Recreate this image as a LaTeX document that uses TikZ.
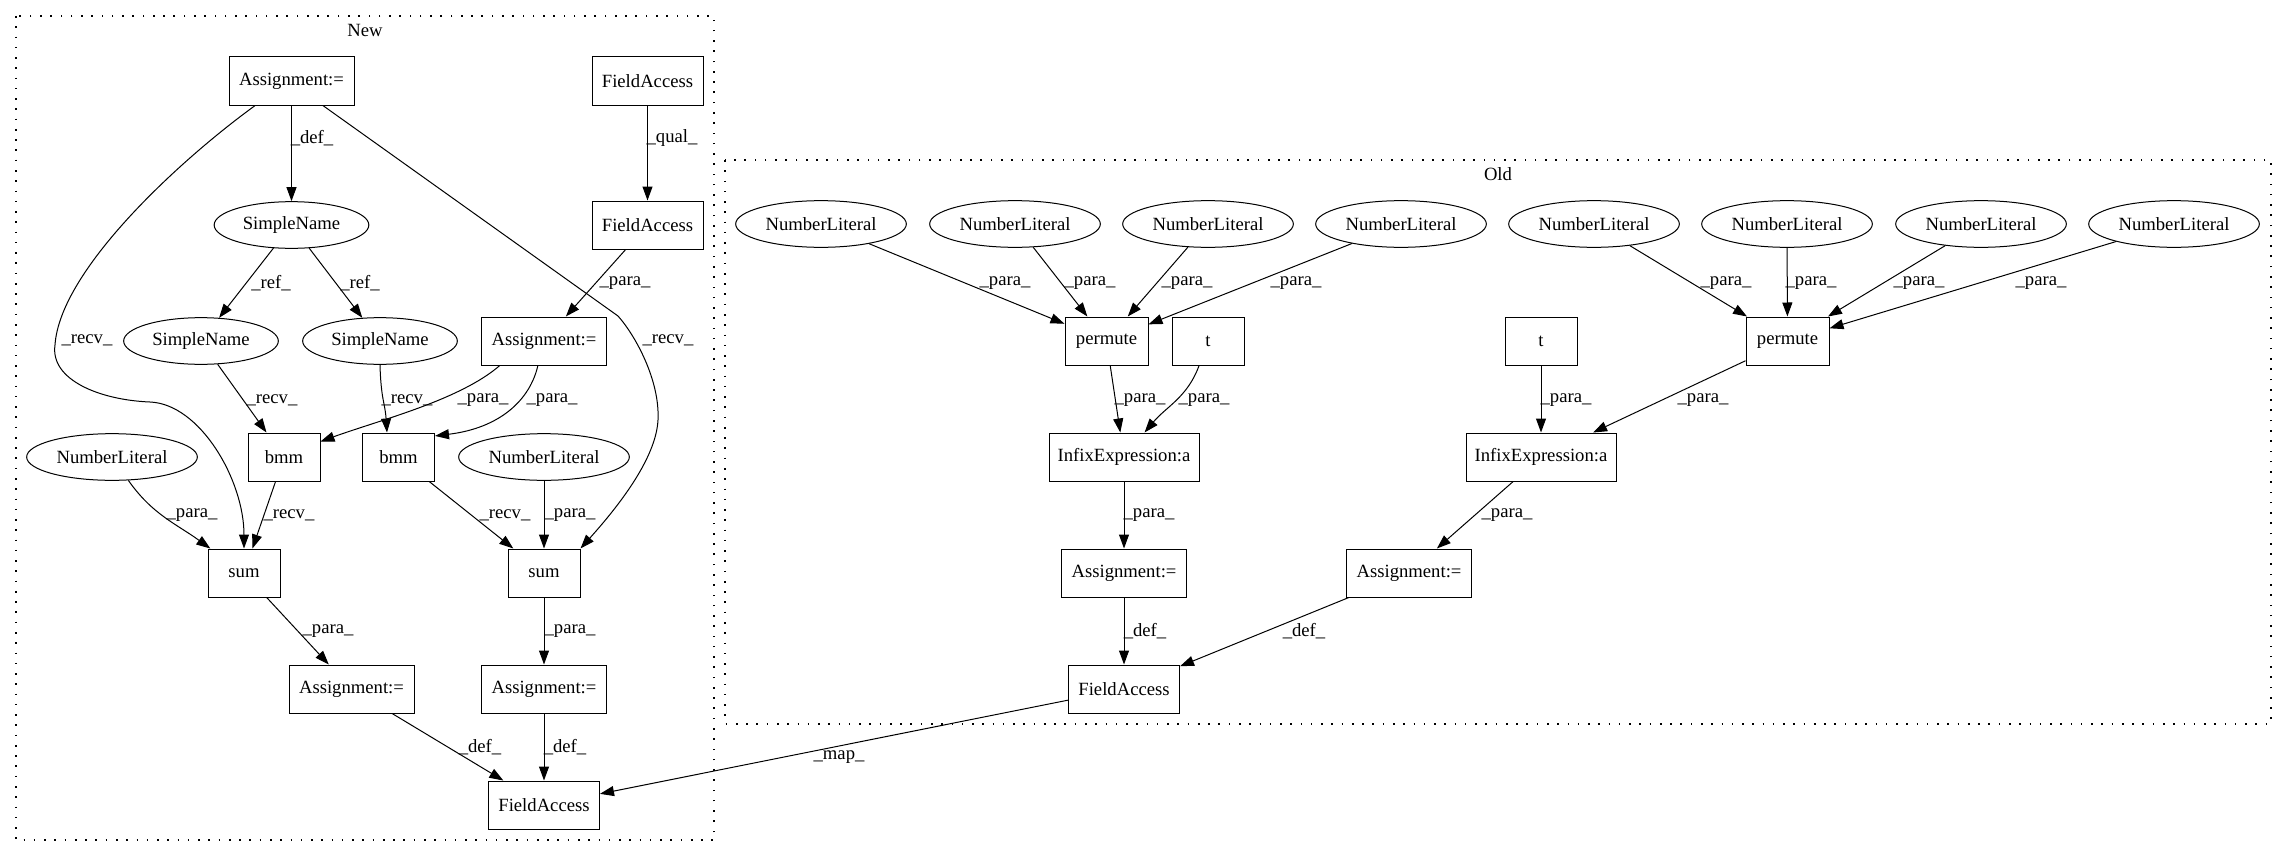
\documentclass[tikz,border=0pt]{standalone}
\usepackage{fontspec}
\setmainfont{Liberation Serif}
\usetikzlibrary{shapes.geometric,arrows.meta,calc}
\begin{document}
\begin{tikzpicture}[x=0.75pt,y=-0.75pt,
  txt/.style={font=\fontsize{14}{16}\selectfont},
  box/.style={txt,draw,line width=0.75pt,rectangle,inner sep=0pt,minimum height=36pt},
  oval/.style={txt,draw,line width=0.75pt,ellipse,inner sep=0pt,minimum height=35pt},
  asg/.style={box,minimum width=93.75pt},
  fld/.style={box,minimum width=83.25pt},
  sml/.style={box,minimum width=54pt},
  prm/.style={box,minimum width=62.25pt},
  inf/.style={box,minimum width=112.5pt},
  sn/.style={oval,minimum width=116pt},
  nl/.style={oval,minimum width=128pt},
  e/.style={draw,line width=0.75pt,-{Triangle[length=10.5pt,width=7.5pt]}},
  lbl/.style={txt,inner sep=0pt},
  clus/.style={line width=0.9pt,dash pattern=on 1.2pt off 6.5pt}]
\useasboundingbox (0,0) rectangle (2287,856);

% clusters
\draw[clus] (16,16) rectangle (714,840);
\node[lbl] (newlbl) at (365,30) {New};
\draw[clus] (725,160) rectangle (2271,724);
\node[lbl] (oldlbl) at (1498,174) {Old};

% New nodes
\node[asg] (A1) at (291.5,81) {Assignment:=};
\node[fld] (FA1) at (647.5,81) {FieldAccess};
\node[sn] (SN0) at (291.5,225) {SimpleName};
\node[fld] (FA2) at (647.5,225) {FieldAccess};
\node[sn] (SN1) at (201,341) {SimpleName};
\node[sn] (SN2) at (380,341) {SimpleName};
\node[asg] (A2) at (544,341) {Assignment:=};
\node[nl] (NL1) at (112,457) {NumberLiteral};
\node[sml] (bmm1) at (284,457) {bmm};
\node[sml] (bmm2) at (398.5,457) {bmm};
\node[nl] (NL2) at (544,457) {NumberLiteral};
\node[sml] (sum1) at (244,573) {sum};
\node[sml] (sum2) at (544,573) {sum};
\node[asg] (A3) at (351.5,689) {Assignment:=};
\node[asg] (A4) at (544,689) {Assignment:=};
\node[fld] (FA3) at (544,805) {FieldAccess};

% Old nodes
\node[nl] (NLa) at (821,224) {NumberLiteral};
\node[nl] (NLb) at (1015,224) {NumberLiteral};
\node[nl] (NLc) at (1208,224) {NumberLiteral};
\node[nl] (NLd) at (1401,224) {NumberLiteral};
\node[nl] (NLe) at (1594,224) {NumberLiteral};
\node[nl] (NLf) at (1787,224) {NumberLiteral};
\node[nl] (NLg) at (1981,224) {NumberLiteral};
\node[nl] (NLh) at (2174,224) {NumberLiteral};
\node[prm] (P1) at (1106.5,341) {permute};
\node[sml] (T1) at (1208,341) {t};
\node[sml] (T2) at (1541,341) {t};
\node[prm] (P2) at (1787.5,341) {permute};
\node[inf] (I1) at (1124,457) {InfixExpression:a};
\node[inf] (I2) at (1541,457) {InfixExpression:a};
\node[asg] (A5) at (1124,573) {Assignment:=};
\node[asg] (A6) at (1409,573) {Assignment:=};
\node[fld] (FA4) at (1124,689) {FieldAccess};

% New edges
\draw[e] (A1) -- (SN0);
\draw[e] (FA1) -- (FA2);
\draw[e] (SN0) -- (SN1);
\draw[e] (SN0) -- (SN2);
\draw[e] (FA2) -- (A2);
\draw[e] (SN1) -- (bmm1);
\draw[e] (SN2.south) .. controls +(1,35) and +(-2,-30) .. ($(bmm2.north)+(-11.5,0)$);
\draw[e] (A2.-151) .. controls (460,400) and (380,420) .. (bmm1.23);
\draw[e] (A2.-104) .. controls (530,400) and (500,428) .. (bmm2.30);
\draw[e] (A1.-146) .. controls (180,160) and (60,270) .. (55,345)
   .. controls (50,380) and (100,400) .. (150,402)
   .. controls (200,404) and (244,480) .. (sum1.north);
\draw[e] (A1.-38) -- (618,316) .. controls (635,335) and (660,380) .. (658,420)
   .. controls (656,460) and (615,510) .. (sum2.north east);
\draw[e] (bmm1) -- (sum1);
\draw[e] (NL1) to[out=-55,in=144] (sum1);
\draw[e] (bmm2) -- (sum2);
\draw[e] (NL2) -- (sum2);
\draw[e] (sum1) -- (A3);
\draw[e] (sum2) -- (A4);
\draw[e] (A3) -- (FA3);
\draw[e] (A4) -- (FA3);
\draw[e] (FA4) -- (FA3);

% Old edges
\foreach \n in {NLa,NLb,NLc,NLd} {\draw[e] (\n) -- (P1);}
\foreach \n in {NLe,NLf,NLg,NLh} {\draw[e] (\n) -- (P2);}
\draw[e] (P1) -- (I1);
\draw[e] (T1) to[out=-110,in=50] (I1);
\draw[e] (I1) -- (A5);
\draw[e] (A5) -- (FA4);
\draw[e] (T2) -- (I2);
\draw[e] (P2) -- (I2);
\draw[e] (I2) -- (A6);
\draw[e] (A6) -- (FA4);

% edge labels (New)
\node[lbl] (l1) at (312,138) {\_def\_};
\node[lbl] (l2) at (672,138) {\_qual\_};
\node[lbl] (l3) at (271,283) {\_ref\_};
\node[lbl] (l4) at (360,283) {\_ref\_};
\node[lbl] (l5) at (625,283) {\_para\_};
\node[lbl] (l6) at (87,340) {\_recv\_};
\node[lbl] (l7) at (668,340) {\_recv\_};
\node[lbl] (l8) at (272,400) {\_recv\_};
\node[lbl] (l9) at (407,400) {\_recv\_};
\node[lbl] (l10) at (483,400) {\_para\_};
\node[lbl] (l11) at (552,400) {\_para\_};
\node[lbl] (l12) at (192,515) {\_para\_};
\node[lbl] (l13) at (289,515) {\_recv\_};
\node[lbl] (l14) at (505,515) {\_recv\_};
\node[lbl] (l15) at (570,515) {\_para\_};
\node[lbl] (l16) at (328,631) {\_para\_};
\node[lbl] (l17) at (570,631) {\_para\_};
\node[lbl] (l18) at (480,747) {\_def\_};
\node[lbl] (l19) at (565,747) {\_def\_};
\node[lbl] (l20) at (839,757) {\_map\_};
% edge labels (Old)
\node[lbl] (m1) at (1005,283) {\_para\_};
\node[lbl] (m2) at (1090,283) {\_para\_};
\node[lbl] (m3) at (1187,283) {\_para\_};
\node[lbl] (m4) at (1296,283) {\_para\_};
\node[lbl] (m5) at (1726,283) {\_para\_};
\node[lbl] (m6) at (1811,283) {\_para\_};
\node[lbl] (m7) at (1919,283) {\_para\_};
\node[lbl] (m8) at (2041,283) {\_para\_};
\node[lbl] (m9) at (1140,400) {\_para\_};
\node[lbl] (m10) at (1204,400) {\_para\_};
\node[lbl] (m11) at (1566,400) {\_para\_};
\node[lbl] (m12) at (1703,400) {\_para\_};
\node[lbl] (m13) at (1149,515) {\_para\_};
\node[lbl] (m14) at (1507,515) {\_para\_};
\node[lbl] (m15) at (1145,631) {\_def\_};
\node[lbl] (m16) at (1304,631) {\_def\_};
\end{tikzpicture}
\end{document}
